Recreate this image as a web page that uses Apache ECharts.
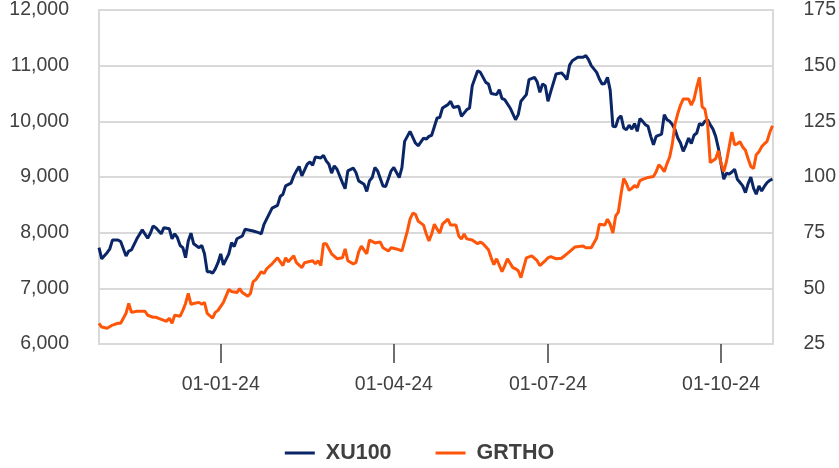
<!DOCTYPE html>
<html>
<head>
<meta charset="utf-8">
<script src="https://cdn.jsdelivr.net/npm/echarts@6/dist/echarts.min.js"></script>
<style>
  html, body { margin: 0; padding: 0; background: #fff; }
  #chart { width: 839px; height: 468px; }
</style>
</head>
<body>
<div id="chart"></div>
<script>
// trading calendar (Borsa Istanbul), Oct 2023 - Oct 2024
var startDate = '2023-10-30';
var endDate = '2024-10-28';
var holidays = ['2024-01-01', '2024-04-10', '2024-04-11', '2024-04-12', '2024-04-23',
    '2024-05-01', '2024-06-17', '2024-06-18', '2024-06-19', '2024-07-15', '2024-08-30'];

// XU100 readings: trading-day number -> index level
var xuDay = [0, 1, 3, 4, 5, 7, 8, 9, 10, 11, 12, 14, 16, 18, 19, 20, 21, 23, 24, 26, 27, 28, 29, 30, 31, 32, 33, 34, 35, 37, 38, 39,
    40, 41, 42, 43, 44, 45, 46, 48, 49, 50, 51, 53, 54, 57, 59, 60, 61, 64, 66, 67, 68, 69, 71, 72, 73, 74, 75, 77, 78, 79,
    80, 82, 83, 84, 85, 86, 87, 88, 90, 91, 92, 94, 95, 96, 98, 99, 100, 101, 102, 103, 105, 106, 108, 109, 111, 112, 113, 115, 117, 118,
    120, 121, 122, 123, 125, 126, 127, 129, 130, 131, 133, 134, 136, 137, 138, 140, 141, 143, 144, 145, 147, 148, 149, 150, 152, 154, 155, 156, 158, 159,
    161, 162, 163, 164, 165, 166, 167, 169, 171, 172, 173, 174, 175, 177, 179, 180, 181, 182, 184, 185, 186, 187, 188, 189, 190, 191, 192, 193,
    194, 195, 196, 197, 198, 199, 200, 201, 202, 203, 204, 205, 206, 208, 209, 210, 211, 212, 213, 214, 215, 216, 217, 218, 219, 220, 221, 222,
    223, 224, 225, 226, 227, 228, 229, 230, 231, 232, 233, 234, 235, 236, 237, 238, 239, 240, 241, 242, 243, 244, 245, 246, 247, 248, 249];
var xuVal = [7730, 7530, 7640, 7710, 7870, 7870, 7840, 7710, 7580, 7670, 7690, 7890, 8050, 7900, 7990, 8120, 8090, 7980, 8090, 8070, 7890, 7980, 7910, 7770, 7730, 7550, 7850, 7990, 7800, 7730, 7770, 7620,
    7300, 7300, 7270, 7350, 7460, 7620, 7420, 7620, 7820, 7750, 7890, 7940, 8060, 8030, 8000, 7980, 8150, 8440, 8490, 8650, 8690, 8840, 8890, 9020, 9110, 9190, 9020, 9230, 9270, 9210,
    9360, 9340, 9390, 9290, 9230, 9070, 9200, 9140, 8900, 8790, 9110, 9160, 9080, 8930, 8870, 8740, 8930, 8990, 9170, 9110, 8840, 8830, 9110, 9170, 8990, 9170, 9640, 9820, 9610, 9560,
    9700, 9680, 9730, 9750, 10060, 10070, 10240, 10300, 10360, 10250, 10270, 10090, 10210, 10240, 10640, 10910, 10880, 10700, 10670, 10500, 10480, 10570, 10410, 10390, 10240, 10030, 10120, 10360, 10480, 10750,
    10790, 10710, 10520, 10670, 10640, 10360, 10530, 10850, 10870, 10820, 10750, 11010, 11090, 11150, 11150, 11180, 11110, 11000, 10880, 10760, 10670, 10680, 10790, 10560, 9910, 9900, 10050, 10100,
    9880, 9850, 9930, 9860, 9960, 9820, 10050, 10000, 9940, 9910, 9730, 9580, 9730, 9770, 10120, 10030, 10000, 9940, 9850, 9700, 9610, 9460, 9570, 9700, 9600, 9750, 9790, 9960,
    9930, 10000, 10030, 9940, 9860, 9730, 9520, 9230, 8960, 9070, 9050, 9090, 9140, 8960, 8900, 8840, 8720, 8880, 9000, 8800, 8690, 8840, 8750, 8830, 8900, 8940, 8960];

// GRTHO readings: trading-day number -> share price
var grDay = [0, 1, 3, 5, 7, 8, 10, 11, 12, 14, 17, 18, 20, 21, 23, 25, 26, 27, 28, 30, 31, 32, 33, 34, 35, 37, 38, 39,
    40, 42, 43, 44, 46, 48, 49, 51, 52, 53, 55, 56, 57, 58, 60, 61, 62, 64, 66, 68, 69, 70, 72, 73, 75, 76, 79,
    80, 81, 82, 83, 84, 86, 88, 90, 91, 92, 94, 95, 96, 97, 99, 100, 102, 104, 105, 107, 108, 110, 112, 114, 115, 116, 117, 118,
    120, 121, 122, 123, 124, 125, 126, 127, 129, 130, 132, 133, 134, 135, 136, 138, 140, 141, 142, 144, 145, 146, 147, 149, 150, 151, 153, 154, 155, 156, 157, 158,
    160, 162, 163, 165, 166, 167, 169, 171, 173, 174, 176, 179, 180, 182, 184, 185, 187, 188, 189, 190, 191, 192, 193, 194, 195, 196, 197, 198, 199,
    200, 201, 203, 205, 206, 207, 208, 209, 210, 211, 212, 213, 214, 215, 216, 218, 219, 220, 221, 222, 223, 224, 225, 226, 228, 229,
    230, 231, 232, 233, 234, 235, 236, 237, 238, 239, 240, 241, 242, 243, 244, 245, 246, 247, 248, 249];
var grVal = [34.3, 32.6, 32.1, 33.5, 34.3, 34.3, 38.8, 43.2, 39.2, 39.7, 39.7, 37.9, 37.0, 37.0, 36.1, 35.2, 36.6, 34.3, 37.9, 37.5, 40.1, 43.2, 47.7, 42.8, 43.2, 43.7, 42.8, 43.7,
    38.8, 36.6, 39.2, 40.1, 43.7, 49.5, 48.6, 48.1, 49.9, 48.1, 46.4, 47.7, 53.0, 53.9, 57.5, 56.6, 58.8, 61.0, 63.7, 60.2, 63.7, 61.9, 64.6, 61.5, 59.3, 61.5, 62.4,
    61.0, 62.4, 60.2, 70.0, 70.0, 65.5, 63.3, 63.7, 67.7, 62.4, 61.0, 61.5, 66.4, 69.0, 65.5, 71.7, 70.4, 70.8, 68.2, 66.8, 68.2, 67.7, 66.8, 75.7, 81.1, 83.7, 83.3, 80.2,
    78.4, 74.4, 71.3, 74.4, 78.8, 76.6, 74.8, 78.8, 81.1, 78.4, 78.4, 73.5, 72.2, 74.4, 72.2, 71.7, 70.0, 70.8, 70.0, 67.3, 63.7, 60.6, 63.3, 57.5, 60.2, 63.3, 59.3, 58.8, 57.9, 54.8, 59.3, 63.7,
    64.6, 62.4, 60.2, 62.4, 63.7, 64.2, 63.3, 63.5, 65.5, 66.5, 68.6, 69.0, 68.2, 68.2, 72.6, 78.8, 78.4, 81.1, 78.8, 74.8, 82.4, 84.2, 92.2, 99.3, 97.1, 94.0, 94.9, 96.2, 95.3,
    98.4, 98.9, 99.8, 100.2, 102.4, 105.5, 104.2, 102.4, 106.0, 109.0, 115.0, 124.0, 128.5, 132.3, 135.0, 135.0, 132.3, 135.0, 140.3, 144.7, 131.5, 130.5, 124.0, 106.5, 108.2, 111.8,
    106.0, 102.4, 107.0, 113.6, 120.2, 114.5, 114.9, 115.8, 113.5, 112.0, 108.2, 104.7, 103.8, 110.0, 111.3, 113.6, 114.9, 116.0, 120.0, 123.0];

var leftTicks = [6000, 7000, 8000, 9000, 10000, 11000, 12000];
var rightTicks = [25, 50, 75, 100, 125, 150, 175];

function pad(n) { return (n < 10 ? '0' : '') + n; }

function buildTradingDays() {
    var days = [];
    var d = new Date(startDate + 'T00:00:00Z');
    var end = new Date(endDate + 'T00:00:00Z');
    while (d <= end) {
        var key = d.getUTCFullYear() + '-' + pad(d.getUTCMonth() + 1) + '-' + pad(d.getUTCDate());
        var wd = d.getUTCDay();
        if (wd !== 0 && wd !== 6 && holidays.indexOf(key) < 0) days.push(key);
        d.setUTCDate(d.getUTCDate() + 1);
    }
    return days;
}

var tradingDays = buildTradingDays();

// first trading day of Jan / Apr / Jul / Oct
function isQuarterStart(index) {
    if (index === 0) return false;
    var m = tradingDays[index].slice(5, 7);
    var prev = tradingDays[index - 1].slice(5, 7);
    return m !== prev && ['01', '04', '07', '10'].indexOf(m) >= 0;
}

function pairs(days, vals) {
    return days.map(function (d, i) { return [tradingDays[d], vals[i]]; });
}

var font = "'Liberation Sans', Arial, sans-serif";
var textColor = '#404040';
var gridGray = '#d9d9d9';

var chart = echarts.init(document.getElementById('chart'));
chart.setOption({
    animation: false,
    textStyle: { fontFamily: font },
    grid: { left: 99, right: 65, top: 7, bottom: 124 },
    legend: {
        left: 'center',
        top: 437,
        icon: 'rect',
        itemWidth: 30,
        itemHeight: 3,
        itemGap: 44,
        textStyle: { fontFamily: font, fontSize: 21.5, fontWeight: 'bold', color: textColor, padding: [0, 0, 0, 6] },
        data: ['XU100', 'GRTHO']
    },
    xAxis: {
        type: 'category',
        data: tradingDays,
        boundaryGap: false,
        axisLine: { lineStyle: { color: gridGray, width: 2 } },
        axisTick: {
            interval: isQuarterStart,
            length: 19,
            lineStyle: { color: '#404040', width: 1.5 }
        },
        axisLabel: {
            interval: isQuarterStart,
            margin: 31,
            fontSize: 19.5,
            color: textColor,
            fontFamily: font,
            formatter: function (v) { return '01-' + v.slice(5, 7) + '-' + v.slice(2, 4); }
        },
        splitLine: { show: false }
    },
    yAxis: [{
        type: 'value',
        position: 'left',
        min: leftTicks[0],
        max: leftTicks[leftTicks.length - 1],
        interval: leftTicks[1] - leftTicks[0],
        axisLine: { show: true, lineStyle: { color: gridGray, width: 2 } },
        axisTick: { show: false },
        axisLabel: {
            margin: 30,
            fontSize: 19.5,
            color: textColor,
            fontFamily: font,
            formatter: function (v) { return v.toLocaleString('en-US'); }
        },
        splitLine: { lineStyle: { color: gridGray, width: 2 } }
    }, {
        type: 'value',
        position: 'right',
        min: rightTicks[0],
        max: rightTicks[rightTicks.length - 1],
        interval: rightTicks[1] - rightTicks[0],
        axisLine: { show: true, lineStyle: { color: gridGray, width: 2 } },
        axisTick: { show: false },
        axisLabel: { margin: 31, fontSize: 19.5, color: textColor, fontFamily: font },
        splitLine: { show: false }
    }],
    series: [{
        name: 'XU100',
        type: 'line',
        yAxisIndex: 0,
        showSymbol: false,
        color: '#0a2666',
        lineStyle: { width: 3 },
        data: pairs(xuDay, xuVal)
    }, {
        name: 'GRTHO',
        type: 'line',
        yAxisIndex: 1,
        showSymbol: false,
        color: '#ff5508',
        lineStyle: { width: 3 },
        data: pairs(grDay, grVal)
    }]
});
</script>
</body>
</html>
